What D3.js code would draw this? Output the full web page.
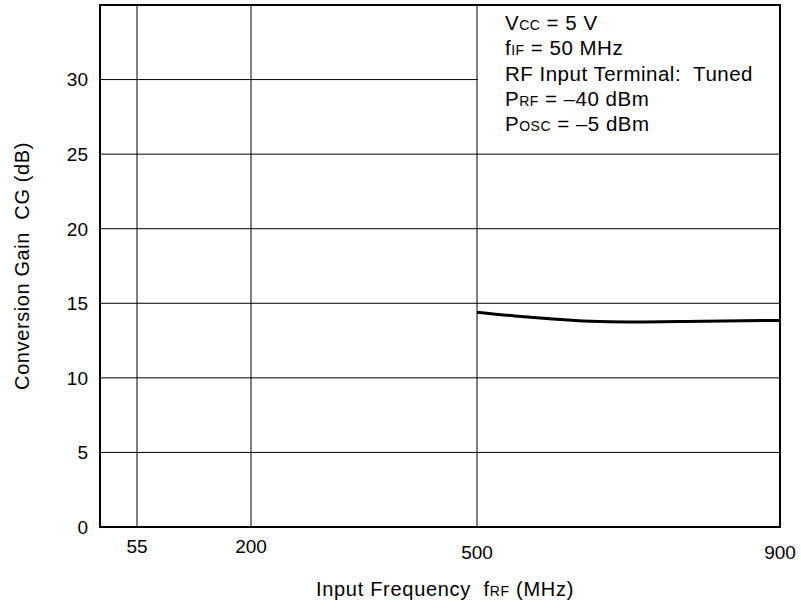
<!DOCTYPE html>
<html>
<head>
<meta charset="utf-8">
<script src="https://cdn.jsdelivr.net/npm/d3@7"></script>
<style>
  body { margin: 0; background: #fff; }
  text { font-family: "Liberation Sans", Arial, Helvetica, sans-serif; fill: #000; }
</style>
</head>
<body>
<div id="chart"></div>
<script>
// Data
var freqStops = [0, 55, 200, 500, 900];      // x axis is not uniform, piecewise
var freqTicks = [55, 200, 500, 900];
var gainTicks = [0, 5, 10, 15, 20, 25, 30];
var freq = [500, 550, 600, 650, 700, 800, 900];
var gain = [14.4, 14.15, 13.95, 13.8, 13.75, 13.8, 13.85];

var notes = [
    ["V", "CC", " = 5 V"],
    ["f", "IF", " = 50 MHz"],
    ["RF Input Terminal:  Tuned", "", ""],
    ["P", "RF", " = \u201340 dBm"],
    ["P", "OSC", " = \u20135 dBm"]
];

const W = 801, H = 611;
const margin = { top: 5, right: 21, bottom: 84, left: 100 };
const width = W - margin.left - margin.right;
const height = H - margin.top - margin.bottom;

const svg = d3.select("#chart")
    .append("svg")
    .attr("width", W)
    .attr("height", H);

const g = svg.append("g")
    .attr("transform", `translate(${margin.left}, ${margin.top})`);

// Scales
const x = d3.scaleLinear()
    .domain(freqStops)
    .range([0, 37, 151, 377, width]);
const y = d3.scaleLinear()
    .domain([0, 35])
    .range([height, 0]);

// Grid lines
g.selectAll(".hgrid")
    .data(gainTicks.filter(d => d > 0))
    .enter().append("line")
    .attr("x1", 0).attr("x2", width)
    .attr("y1", d => y(d)).attr("y2", d => y(d))
    .attr("stroke", "#000").attr("stroke-width", 1);

// White patch behind the notes (hides the 30 dB grid line there)
g.append("rect")
    .attr("x", x(500) + 1)
    .attr("y", 0)
    .attr("width", width - x(500) - 1)
    .attr("height", y(26.5))
    .attr("fill", "#fff");

g.selectAll(".vgrid")
    .data(freqTicks.slice(0, 3))
    .enter().append("line")
    .attr("x1", d => x(d)).attr("x2", d => x(d))
    .attr("y1", 0).attr("y2", height)
    .attr("stroke", "#000").attr("stroke-width", 1);

// Frame
g.append("rect")
    .attr("width", width).attr("height", height)
    .attr("fill", "none")
    .attr("stroke", "#000").attr("stroke-width", 2);

// Curve
const line = d3.line()
    .x((d, i) => x(freq[i]))
    .y(d => y(d))
    .curve(d3.curveMonotoneX);
g.append("path")
    .datum(gain)
    .attr("fill", "none")
    .attr("stroke", "#000")
    .attr("stroke-width", 3)
    .attr("d", line);

// Y tick labels
g.selectAll(".ylab")
    .data(gainTicks)
    .enter().append("text")
    .attr("x", -12)
    .attr("y", d => y(d))
    .attr("dy", "0.36em")
    .attr("text-anchor", "end")
    .style("font-size", "19px")
    .text(d => d);

// X tick labels (the two right ones sit a bit lower in the original)
g.selectAll(".xlab")
    .data(freqTicks)
    .enter().append("text")
    .attr("x", d => x(d))
    .attr("y", d => height + (d >= 500 ? 32 : 26))
    .attr("text-anchor", "middle")
    .style("font-size", "19px")
    .text(d => d);

// Axis titles
const xt = svg.append("text")
    .attr("x", 445)
    .attr("y", 596)
    .attr("text-anchor", "middle")
    .style("font-size", "20px")
    .style("letter-spacing", "0.7px")
    .attr("xml:space", "preserve");
xt.append("tspan").text("Input Frequency  f");
xt.append("tspan").style("font-size", "14px").text("RF");
xt.append("tspan").text(" (MHz)");

svg.append("text")
    .attr("transform", `translate(29, ${margin.top + height / 2}) rotate(-90)`)
    .attr("text-anchor", "middle")
    .style("font-size", "20px")
    .style("letter-spacing", "0.6px")
    .attr("xml:space", "preserve")
    .text("Conversion Gain  CG (dB)");

// Notes
const nt = g.append("g").attr("transform", `translate(${x(500) + 28}, 0)`);
notes.forEach(function (n, i) {
    const t = nt.append("text")
        .attr("x", 0)
        .attr("y", 25 + i * 25.3)
        .attr("xml:space", "preserve")
        .style("font-size", "20.5px")
        .style("letter-spacing", "0.5px");
    t.append("tspan").text(n[0]);
    if (n[1]) t.append("tspan").style("font-size", "14px").text(n[1]);
    if (n[2]) t.append("tspan").text(n[2]);
});
</script>
</body>
</html>
